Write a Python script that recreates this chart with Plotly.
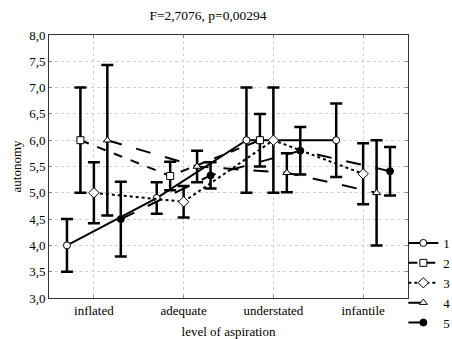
import plotly.graph_objects as go

categories = ["inflated", "adequate", "understated", "infantile"]
series_names = ["1", "2", "3", "4", "5"]

s1_mean = [4.0, 4.9, 6.0, 6.0]
s1_err = [0.5, 0.3, 1.0, 0.7]
s2_mean = [6.0, 5.32, 6.0, None]
s2_err = [1.0, 0.27, 0.5, None]
s3_mean = [5.0, 4.83, 6.0, 5.36]
s3_err = [0.58, 0.3, 1.0, 0.58]
s4_mean = [6.0, 5.5, 5.38, 5.0]
s4_err = [1.43, 0.3, 0.37, 1.0]
s5_mean = [4.5, 5.33, 5.8, 5.41]
s5_err = [0.71, 0.25, 0.45, 0.46]

y_ticks = [3.0, 3.5, 4.0, 4.5, 5.0, 5.5, 6.0, 6.5, 7.0, 7.5, 8.0]
y_tick_text = ["3,0", "3,5", "4,0", "4,5", "5,0", "5,5", "6,0", "6,5", "7,0", "7,5", "8,0"]

offsets = [-0.3, -0.15, 0.0, 0.15, 0.3]
means = [s1_mean, s2_mean, s3_mean, s4_mean, s5_mean]
errs = [s1_err, s2_err, s3_err, s4_err, s5_err]
symbols = ["circle", "square", "diamond", "triangle-up", "circle"]
fills = ["white", "white", "white", "white", "black"]
dashes = ["solid", "dash", "dot", "longdash", "longdash"]
sizes = [7, 7, 8, 7, 7]

FONT = "Liberation Serif, Times New Roman, serif"

fig = go.Figure()
for i in range(5):
    xs = [j + offsets[i] for j in range(len(categories))]
    fig.add_trace(go.Scatter(
        x=xs, y=means[i], name=series_names[i], mode="lines+markers",
        connectgaps=False,
        line=dict(color="black", width=2, dash=dashes[i]),
        marker=dict(symbol=symbols[i], size=sizes[i], color=fills[i],
                    line=dict(color="black", width=1)),
        error_y=dict(type="data", array=errs[i], visible=True,
                     color="black", thickness=2.5, width=6),
    ))

fig.update_layout(
    width=452, height=339,
    margin=dict(l=49, r=44, t=35, b=41, autoexpand=False),
    paper_bgcolor="white", plot_bgcolor="white",
    font=dict(family=FONT, size=13, color="black"),
    title=dict(text="F=2,7076, p=0,00294", x=208/452, xref="container", xanchor="center",
               y=1-15/339, yref="container", yanchor="middle",
               font=dict(family=FONT, size=13.5, color="black")),
    showlegend=True,
    legend=dict(x=0.987, xanchor="left", y=-0.152, yanchor="bottom",
                font=dict(family=FONT, size=13), itemwidth=30,
                bgcolor="rgba(0,0,0,0)", borderwidth=0,
                tracegroupgap=0),
)
fig.update_xaxes(
    range=[-0.5, 3.5], tickvals=list(range(len(categories))), ticktext=categories,
    showgrid=True, gridcolor="#cfcfcf", griddash="dot", gridwidth=1,
    zeroline=False, showline=True, linecolor="#333333", linewidth=1, mirror="ticks",
    ticks="inside", ticklen=3, tickcolor="#888888", automargin=False,
    title=dict(text="level of aspiration", standoff=12, font=dict(family=FONT, size=13)),
    tickfont=dict(family=FONT, size=13),
)
fig.update_yaxes(
    range=[3.0, 8.0], tickvals=y_ticks, ticktext=y_tick_text,
    showgrid=True, gridcolor="#cfcfcf", griddash="dot", gridwidth=1,
    zeroline=False, showline=True, linecolor="#333333", linewidth=1, mirror="ticks",
    ticks="inside", ticklen=3, tickcolor="#888888", automargin=False,
    title=dict(text="autonomy", standoff=4, font=dict(family=FONT, size=13)),
    tickfont=dict(family=FONT, size=13),
)

fig.write_html("out.html")
